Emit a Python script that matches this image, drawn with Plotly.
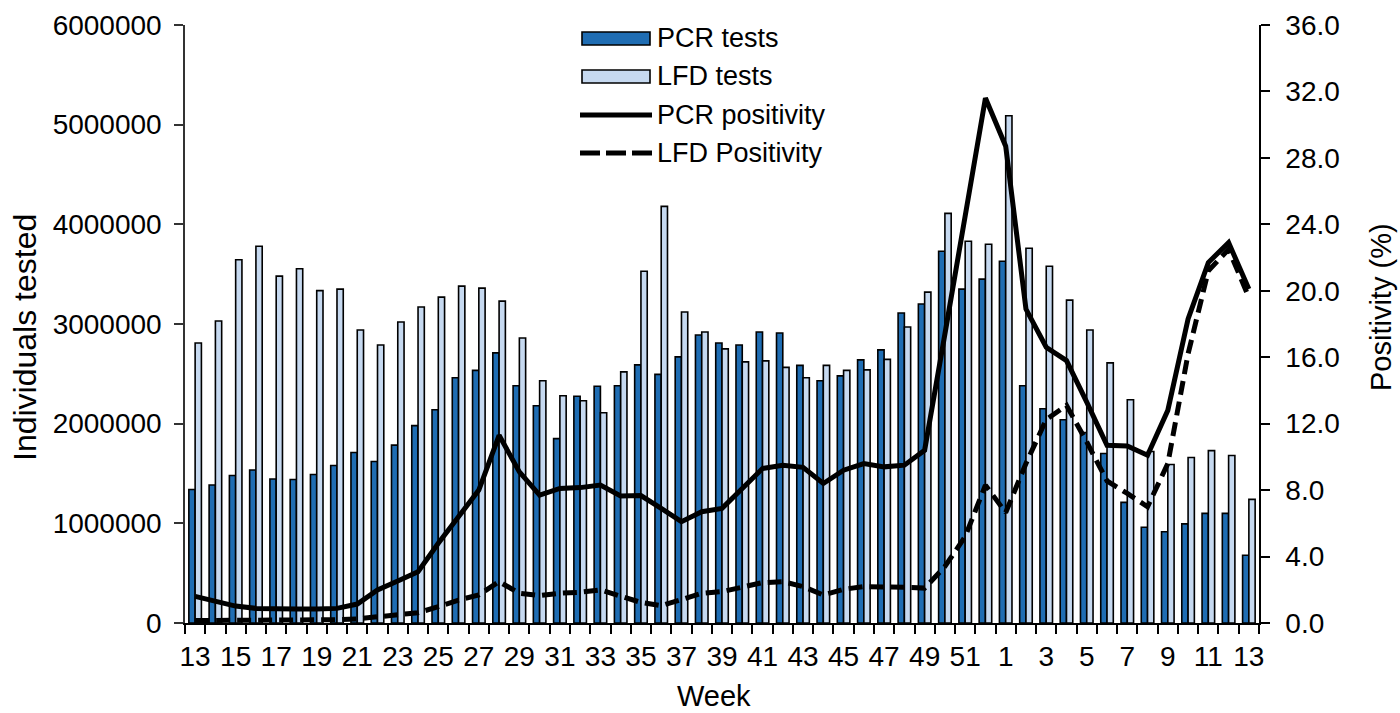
import plotly.graph_objects as go

# ---------------- data ----------------
weeks = list(range(13, 53)) + list(range(1, 14))

pcr_tests = [1340000, 1385000, 1480000, 1535000, 1445000, 1440000, 1490000, 1580000,
             1710000, 1620000, 1785000, 1980000, 2140000, 2460000, 2535000, 2710000,
             2380000, 2180000, 1850000, 2275000, 2375000, 2380000, 2590000, 2495000,
             2670000, 2890000, 2810000, 2790000, 2920000, 2910000, 2585000, 2430000,
             2480000, 2640000, 2740000, 3110000, 3200000, 3730000, 3350000, 3450000,
             3630000, 2380000, 2150000, 2040000, 1910000, 1700000, 1210000, 960000,
             915000, 995000, 1100000, 1100000, 680000]

lfd_tests = [2810000, 3030000, 3645000, 3780000, 3480000, 3555000, 3335000, 3350000,
             2940000, 2790000, 3020000, 3170000, 3270000, 3380000, 3360000, 3230000,
             2860000, 2430000, 2280000, 2230000, 2110000, 2520000, 3530000, 4180000,
             3120000, 2920000, 2750000, 2620000, 2630000, 2565000, 2460000, 2585000,
             2535000, 2540000, 2645000, 2970000, 3320000, 4110000, 3830000, 3800000,
             5090000, 3760000, 3580000, 3240000, 2940000, 2610000, 2240000, 1720000,
             1590000, 1660000, 1730000, 1680000, 1240000]

pcr_positivity = [1.6, 1.28, 1.02, 0.88, 0.84, 0.84, 0.84, 0.88, 1.14, 1.99, 2.53, 3.09,
                  4.8, 6.4, 8.0, 11.3, 9.1, 7.7, 8.1, 8.15, 8.3, 7.65, 7.67, 6.9, 6.1,
                  6.7, 6.9, 8.1, 9.3, 9.5, 9.37, 8.4, 9.2, 9.6, 9.4, 9.5, 10.4, 17.4,
                  24.6, 31.6, 28.7, 18.9, 16.6, 15.8, 13.3, 10.7, 10.65, 10.1, 12.8,
                  18.3, 21.7, 22.9, 20.1]

lfd_positivity = [0.15, 0.15, 0.15, 0.15, 0.15, 0.2, 0.2, 0.2, 0.25, 0.38, 0.48, 0.62,
                  0.98, 1.38, 1.69, 2.49, 1.79, 1.65, 1.79, 1.85, 1.99, 1.59, 1.24,
                  1.04, 1.38, 1.79, 1.89, 2.15, 2.43, 2.49, 2.19, 1.69, 2.03, 2.19,
                  2.19, 2.15, 2.1, 3.4, 5.2, 8.3, 6.65, 9.6, 12.25, 13.1, 10.9, 8.55,
                  7.8, 7.0, 9.6, 16.2, 21.2, 22.5, 19.6]

series_names = ["PCR tests", "LFD tests", "PCR positivity", "LFD Positivity"]
left_ticks = [0, 1000000, 2000000, 3000000, 4000000, 5000000, 6000000]
right_ticks = [0, 4, 8, 12, 16, 20, 24, 28, 32, 36]

# ---------------- styling ----------------
PCR_BLUE = "#1f6db3"
LFD_BLUE = "#c6d9f0"
FONT = "Liberation Sans, Arial, sans-serif"

W, H = 1400, 713
ML, MT = 185, 25
PW = 1259 - 185
PH = 623 - 25
MR = W - ML - PW
MB = H - MT - PH

idx = list(range(len(weeks)))
tickvals = idx[::2]
ticktext = [str(weeks[i]) for i in tickvals]

fig = go.Figure()
fig.add_trace(go.Bar(x=idx, y=pcr_tests, name=series_names[0],
                     marker=dict(color=PCR_BLUE, line=dict(color="black", width=1.6)),
                     showlegend=False))
fig.add_trace(go.Bar(x=idx, y=lfd_tests, name=series_names[1],
                     marker=dict(color=LFD_BLUE, line=dict(color="black", width=1.6)),
                     showlegend=False))
fig.add_trace(go.Scatter(x=idx, y=pcr_positivity, name=series_names[2], yaxis="y2",
                         mode="lines", line=dict(color="black", width=5),
                         showlegend=False))
fig.add_trace(go.Scatter(x=idx, y=lfd_positivity, name=series_names[3], yaxis="y2",
                         mode="lines", line=dict(color="black", width=5, dash="14px,7px"),
                         showlegend=False))


def sx(p):
    """screen x pixel -> paper x"""
    return (p - ML) / PW


def sy(p):
    """screen y pixel -> paper y"""
    return (MT + PH - p) / PH


# custom legend (wide swatches like the reference)
shapes = [
    dict(type="rect", xref="paper", yref="paper", x0=sx(582), x1=sx(650),
         y0=sy(45), y1=sy(32), fillcolor=PCR_BLUE, line=dict(color="black", width=1.6)),
    dict(type="rect", xref="paper", yref="paper", x0=sx(582), x1=sx(650),
         y0=sy(83), y1=sy(70), fillcolor=LFD_BLUE, line=dict(color="black", width=1.6)),
    dict(type="line", xref="paper", yref="paper", x0=sx(580), x1=sx(652),
         y0=sy(115), y1=sy(115), line=dict(color="black", width=5)),
    dict(type="line", xref="paper", yref="paper", x0=sx(580), x1=sx(652),
         y0=sy(153), y1=sy(153), line=dict(color="black", width=5, dash="20px,6px")),
]
annotations = []
for name, yy in zip(series_names, [38, 76, 115, 153]):
    annotations.append(dict(text=name, xref="paper", yref="paper", x=sx(655), y=sy(yy),
                            xanchor="left", yanchor="middle", showarrow=False,
                            font=dict(family=FONT, size=27, color="black")))
# axis titles placed explicitly
annotations.append(dict(text="Week", xref="paper", yref="paper", x=sx(714), y=sy(696),
                        xanchor="center", yanchor="middle", showarrow=False,
                        font=dict(family=FONT, size=29, color="black")))
annotations.append(dict(text="Individuals tested", xref="paper", yref="paper", x=sx(25),
                        y=sy(338), xanchor="center", yanchor="middle", textangle=-90,
                        showarrow=False, font=dict(family=FONT, size=32, color="black")))
annotations.append(dict(text="Positivity (%)", xref="paper", yref="paper", x=sx(1381),
                        y=sy(307), xanchor="center", yanchor="middle", textangle=-90,
                        showarrow=False, font=dict(family=FONT, size=29, color="black")))

fig.update_layout(
    width=W, height=H,
    margin=dict(l=ML, r=MR, t=MT, b=MB, autoexpand=False),
    paper_bgcolor="white", plot_bgcolor="white",
    font=dict(family=FONT, size=28, color="black"),
    barmode="group", bargap=0.38, bargroupgap=0.0,
    showlegend=False,
    shapes=shapes, annotations=annotations,
    xaxis=dict(
        range=[-0.5, len(weeks) - 0.5], automargin=False,
        tickmode="array", tickvals=tickvals, ticktext=ticktext,
        ticks="", showgrid=False, zeroline=False,
        showline=True, linecolor="black", linewidth=1.5,
        minor=dict(ticks="outside", ticklen=9, tickwidth=1.5, tickcolor="black",
                   tick0=-0.5, dtick=1, showgrid=False),
        ticklabelstandoff=8,
        tickfont=dict(size=28),
    ),
    yaxis=dict(
        range=[0, 6000000], automargin=False, tickmode="array", tickvals=left_ticks,
        ticktext=[str(v) for v in left_ticks],
        ticks="outside", ticklen=9, tickwidth=1.5, tickcolor="#333333",
        showgrid=False, zeroline=False,
        showline=True, linecolor="#333333", linewidth=1.5,
        ticklabelstandoff=7,
        tickfont=dict(size=28),
    ),
    yaxis2=dict(
        range=[0, 36], automargin=False, overlaying="y", side="right",
        tickmode="array", tickvals=right_ticks,
        ticktext=[f"{v:.1f}" for v in right_ticks],
        ticks="outside", ticklen=9, tickwidth=1.5, tickcolor="black",
        showgrid=False, zeroline=False,
        showline=True, linecolor="black", linewidth=1.5,
        ticklabelstandoff=10,
        tickfont=dict(size=28),
    ),
)

fig.write_html("out.html", config={"displayModeBar": False},
               post_script="document.body.style.margin='0';document.body.style.overflow='hidden';")
